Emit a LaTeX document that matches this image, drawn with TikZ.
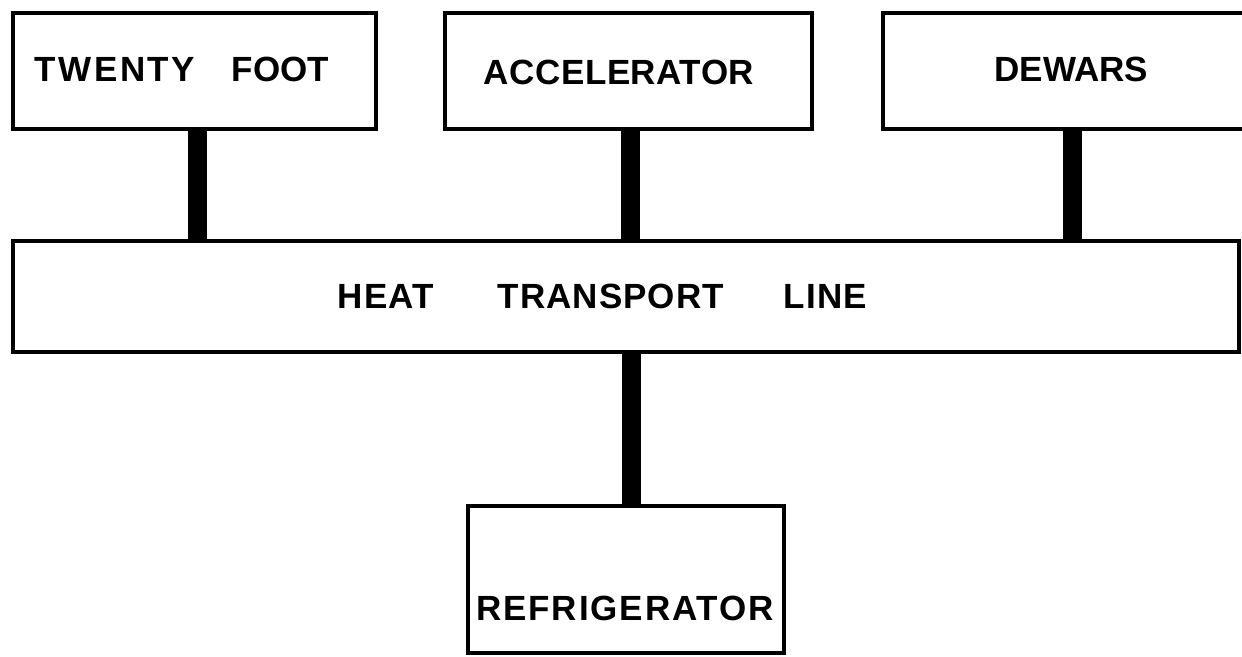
\documentclass[tikz,border=0pt]{standalone}
\usepackage{fontspec}
\setmainfont{Liberation Sans}
\begin{document}
\begin{tikzpicture}[x=1pt,y=-1pt,
  blk/.style={draw=black, line width=4.5pt, fill=white, inner sep=0pt},
  txt/.style={font=\bfseries\fontsize{35}{40}\selectfont, inner sep=0pt},
  conn/.style={line width=19pt, draw=black}]
\useasboundingbox (0,0) rectangle (1242,656);
\begin{scope}
\clip (0,0) rectangle (1242,656);
\coordinate (tfc) at (197,129);
\coordinate (acc1) at (630,129);
\coordinate (dewc) at (1072,129);
\coordinate (refc) at (631,506);
% boxes
\node[blk, minimum width=363pt, minimum height=116pt,
  label={[txt, anchor=west, xshift=24pt, yshift=2pt]west:{\addfontfeature{LetterSpace=7}TWENTY}\hspace{37pt}FOOT}] (tf) at (194.5,71) {};
\node[blk, minimum width=367pt, minimum height=116pt,
  label={[txt, anchor=west, xshift=41pt, yshift=-1pt]west:{\addfontfeature{LetterSpace=1.5}ACCELERATOR}}] (acc) at (628.5,71) {};
\node[blk, minimum width=377pt, minimum height=116pt,
  label={[txt, yshift=2pt]center:DEWARS}] (dew) at (1071.5,71) {};
\node[blk, minimum width=1226pt, minimum height=111pt,
  label={[txt, anchor=west, xshift=327pt]west:{\addfontfeature{LetterSpace=3}HEAT\hspace{64pt}TRANSPORT\hspace{60pt}LINE}}] (heat) at (626,296.5) {};
\node[blk, minimum width=316pt, minimum height=147pt,
  label={[txt, yshift=-29pt, xshift=-1pt]center:{\addfontfeature{LetterSpace=5.4}REFRIGERATOR}}] (ref) at (626,579.5) {};
% connectors
\draw[conn] ([yshift=2pt]tf.south -| tfc) -- ([yshift=-2pt]heat.north -| tfc);
\draw[conn] ([yshift=2pt]acc.south -| acc1) -- ([yshift=-2pt]heat.north -| acc1);
\draw[conn] ([yshift=2pt]dew.south -| dewc) -- ([yshift=-2pt]heat.north -| dewc);
\draw[conn] ([yshift=2pt]heat.south -| refc) -- ([yshift=-2pt]ref.north -| refc);
\end{scope}
\end{tikzpicture}
\end{document}
